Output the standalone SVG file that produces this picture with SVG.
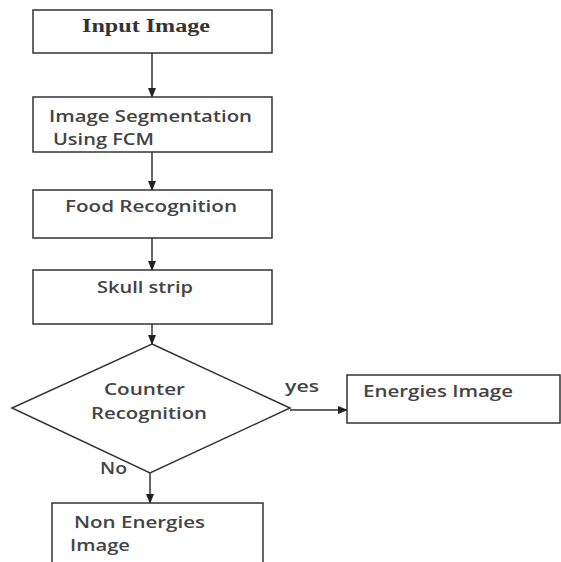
<svg xmlns="http://www.w3.org/2000/svg" width="561" height="562" viewBox="0 0 561 562">
<defs>
<style>
.b{fill:#fff;stroke:#333;stroke-width:1.5}
.t{font-family:"Open Sans","Liberation Sans",sans-serif;font-size:16px;font-weight:600;fill:#444}
.s{font-family:"Liberation Serif",serif;font-size:18px;font-weight:bold;fill:#333}
.c{stroke:#333;stroke-width:1.5;fill:none;marker-end:url(#a)}
</style>
<marker id="a" markerWidth="10" markerHeight="8" refX="9" refY="4" orient="auto" markerUnits="userSpaceOnUse">
<path d="M0,0 L10,4 L0,8 Z" fill="#222"/>
</marker>
</defs>
<rect width="561" height="562" fill="#fff"/>
<g id="connectors">
<line class="c" x1="152" y1="53" x2="152" y2="97"/>
<line class="c" x1="152" y1="152" x2="152" y2="190"/>
<line class="c" x1="152" y1="238" x2="152" y2="270"/>
<line class="c" x1="152" y1="324" x2="152" y2="344"/>
<line class="c" x1="150" y1="473" x2="150" y2="503"/>
<line class="c" x1="290" y1="410" x2="347" y2="410"/>
</g>
<g id="input"><rect class="b" x="33" y="10" width="239" height="43"/><text class="s" x="82" y="32" textLength="128" lengthAdjust="spacingAndGlyphs">Input Image</text></g>
<g id="seg"><rect class="b" x="33" y="97" width="239" height="55"/><text class="t" x="49" y="122" textLength="203" lengthAdjust="spacingAndGlyphs">Image Segmentation</text><text class="t" x="53" y="145" textLength="101" lengthAdjust="spacingAndGlyphs">Using FCM</text></g>
<g id="food"><rect class="b" x="33" y="190" width="239" height="48"/><text class="t" x="65" y="212" textLength="172" lengthAdjust="spacingAndGlyphs">Food Recognition</text></g>
<g id="skull"><rect class="b" x="33" y="270" width="239" height="54"/><text class="t" x="97" y="293" textLength="96" lengthAdjust="spacingAndGlyphs">Skull strip</text></g>
<g id="counter"><polygon class="b" points="152,344 290,408 150,473 12,408"/><text class="t" x="104" y="395" textLength="81" lengthAdjust="spacingAndGlyphs">Counter</text><text class="t" x="91" y="419" textLength="116" lengthAdjust="spacingAndGlyphs">Recognition</text></g>
<g id="energies"><rect class="b" x="347" y="375" width="213" height="48"/><text class="t" x="363" y="397" textLength="150" lengthAdjust="spacingAndGlyphs">Energies Image</text></g>
<g id="nonenergies"><rect class="b" x="52" y="503" width="211" height="62"/><text class="t" x="74" y="528" textLength="131" lengthAdjust="spacingAndGlyphs">Non Energies</text><text class="t" x="70" y="551" textLength="60" lengthAdjust="spacingAndGlyphs">Image</text></g>
<g id="labels"><text class="t" x="285" y="392" textLength="34" lengthAdjust="spacingAndGlyphs">yes</text><text class="t" x="100" y="474" textLength="27" lengthAdjust="spacingAndGlyphs">No</text></g>
</svg>
